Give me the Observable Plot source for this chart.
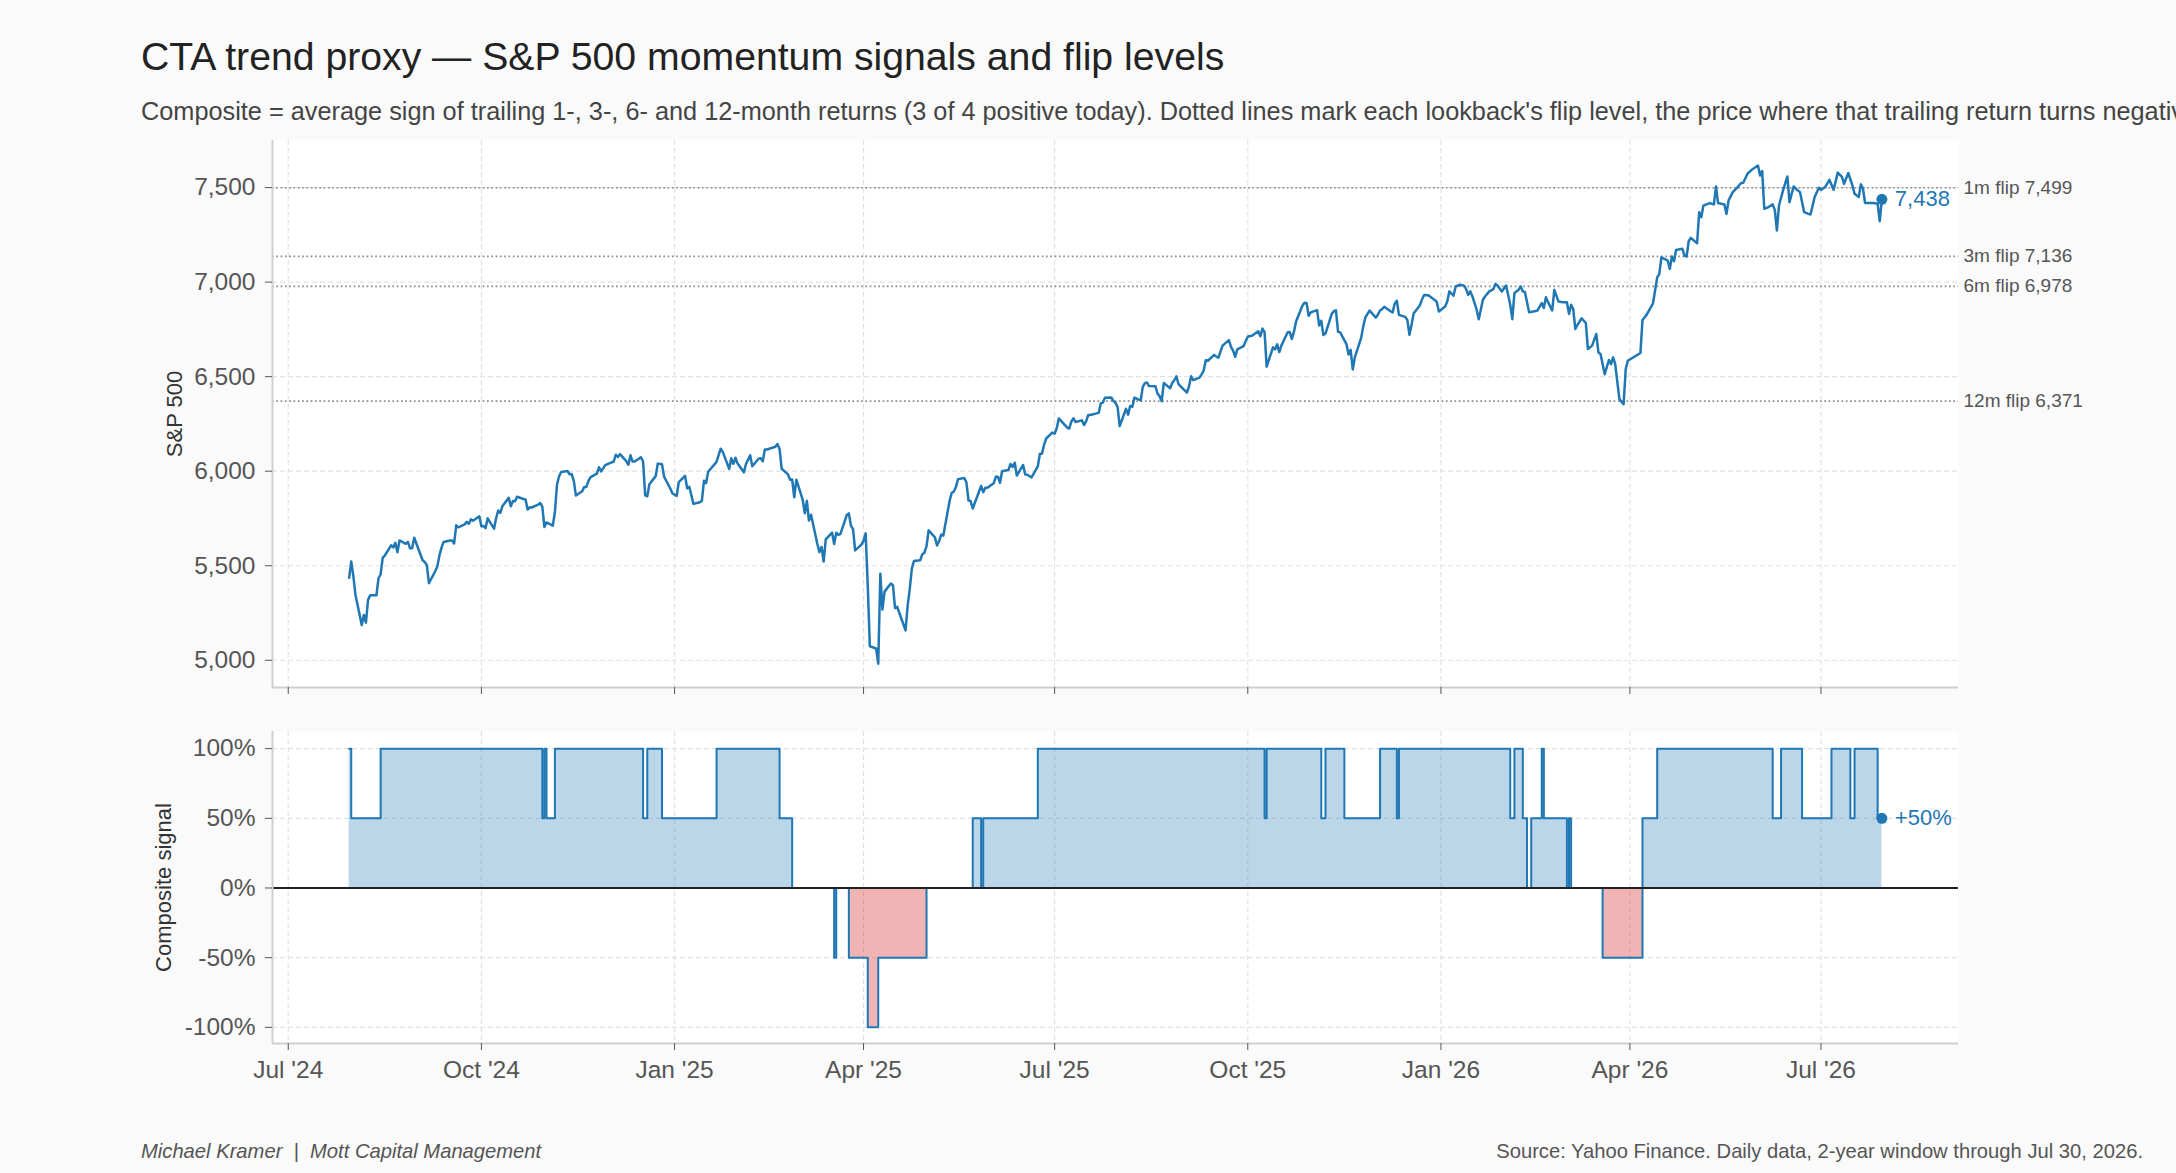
<!DOCTYPE html>
<html><head><meta charset="utf-8">
<script src="https://cdn.jsdelivr.net/npm/d3@7"></script>
<script src="https://cdn.jsdelivr.net/npm/@observablehq/plot@0.6"></script>
<style>
html,body{margin:0;padding:0;background:#fafafa;}
body{width:2176px;height:1173px;position:relative;overflow:hidden;font-family:"Liberation Sans",Arial,Helvetica,sans-serif;}
.t{position:absolute;white-space:pre;line-height:1;}
#title{left:141px;top:37px;font-size:39.2px;color:#222;}
#subtitle{left:141px;top:98.6px;font-size:25.3px;color:#444;}
#credit{left:141px;top:1141px;font-size:20.2px;color:#555;font-style:italic;}
#source{right:33px;top:1141px;font-size:20.2px;color:#555;}
.chart{position:absolute;left:0;}
#topchart{top:130px;}
#botchart{top:720px;}
</style></head>
<body>
<div id="title" class="t">CTA trend proxy — S&amp;P 500 momentum signals and flip levels</div>
<div id="subtitle" class="t">Composite = average sign of trailing 1-, 3-, 6- and 12-month returns (3 of 4 positive today). Dotted lines mark each lookback's flip level, the price where that trailing return turns negative.</div>
<div id="topchart" class="chart"></div>
<div id="botchart" class="chart"></div>
<div id="credit" class="t">Michael Kramer  |  Mott Capital Management</div>
<div id="source" class="t">Source: Yahoo Finance. Daily data, 2-year window through Jul 30, 2026.</div>
<script>
// ---------- DATA ----------
const price2024 = [["07-30",5436],["07-31",5522],["08-01",5446],["08-02",5347],["08-05",5186],["08-06",5240],["08-07",5199],["08-08",5319],["08-09",5344],["08-12",5344],["08-13",5434],["08-14",5455],["08-15",5543],["08-16",5554],["08-19",5608],["08-20",5597],["08-21",5621],["08-22",5571],["08-23",5634],["08-26",5616],["08-27",5626],["08-28",5592],["08-29",5592],["08-30",5648],["09-03",5529],["09-04",5520],["09-05",5503],["09-06",5408],["09-09",5471],["09-10",5496],["09-11",5554],["09-12",5596],["09-13",5626],["09-16",5633],["09-17",5634],["09-18",5618],["09-19",5714],["09-20",5703],["09-23",5719],["09-24",5732],["09-25",5722],["09-26",5745],["09-27",5738],["09-30",5762],["10-01",5709],["10-02",5710],["10-03",5699],["10-04",5751],["10-07",5696],["10-08",5751],["10-09",5792],["10-10",5780],["10-11",5815],["10-14",5859],["10-15",5815],["10-16",5842],["10-17",5841],["10-18",5865],["10-21",5853],["10-22",5851],["10-23",5797],["10-24",5809],["10-25",5808],["10-28",5823],["10-29",5832],["10-30",5813],["10-31",5705],["11-01",5729],["11-04",5712],["11-05",5783],["11-06",5929],["11-07",5973],["11-08",5996],["11-11",6001],["11-12",5984],["11-13",5985],["11-14",5949],["11-15",5871],["11-18",5894],["11-19",5917],["11-20",5917],["11-21",5949],["11-22",5969],["11-25",5987],["11-26",6021],["11-27",5999],["11-29",6032],["12-02",6047],["12-03",6050],["12-04",6087],["12-05",6075],["12-06",6090],["12-09",6053],["12-10",6034],["12-11",6084],["12-12",6051],["12-13",6051],["12-16",6074],["12-17",6051],["12-18",5872],["12-19",5867],["12-20",5931],["12-23",5974],["12-24",6040],["12-26",6037],["12-27",5971],["12-30",5907],["12-31",5882]];
const price2025 = [["01-02",5869],["01-03",5942],["01-06",5975],["01-07",5909],["01-08",5918],["01-10",5827],["01-13",5836],["01-14",5843],["01-15",5950],["01-16",5937],["01-17",5997],["01-21",6049],["01-22",6086],["01-23",6119],["01-24",6101],["01-27",6012],["01-28",6068],["01-29",6039],["01-30",6071],["01-31",6041],["02-03",5994],["02-04",6038],["02-05",6061],["02-06",6084],["02-07",6026],["02-10",6066],["02-11",6069],["02-12",6052],["02-13",6115],["02-14",6115],["02-18",6129],["02-19",6144],["02-20",6118],["02-21",6013],["02-24",5983],["02-25",5955],["02-26",5956],["02-27",5862],["02-28",5955],["03-03",5850],["03-04",5778],["03-05",5843],["03-06",5739],["03-07",5770],["03-10",5615],["03-11",5572],["03-12",5599],["03-13",5522],["03-14",5639],["03-17",5675],["03-18",5615],["03-19",5675],["03-20",5663],["03-21",5668],["03-24",5768],["03-25",5777],["03-26",5712],["03-27",5693],["03-28",5581],["03-31",5612],["04-01",5633],["04-02",5671],["04-03",5397],["04-04",5074],["04-07",5062],["04-08",4982],["04-09",5457],["04-10",5268],["04-11",5363],["04-14",5406],["04-15",5397],["04-16",5276],["04-17",5283],["04-21",5158],["04-22",5288],["04-23",5376],["04-24",5485],["04-25",5525],["04-28",5529],["04-29",5561],["04-30",5569],["05-01",5604],["05-02",5687],["05-05",5650],["05-06",5607],["05-07",5631],["05-08",5664],["05-09",5660],["05-12",5844],["05-13",5886],["05-14",5892],["05-15",5917],["05-16",5958],["05-19",5964],["05-20",5940],["05-21",5845],["05-22",5842],["05-23",5803],["05-27",5922],["05-28",5889],["05-29",5912],["05-30",5912],["06-02",5936],["06-03",5970],["06-04",5971],["06-05",5939],["06-06",6000],["06-09",6006],["06-10",6038],["06-11",6022],["06-12",6045],["06-13",5977],["06-16",6033],["06-17",5982],["06-18",5981],["06-20",5967],["06-23",6025],["06-24",6092],["06-25",6092],["06-26",6141],["06-27",6173],["06-30",6205],["07-01",6198],["07-02",6227],["07-03",6279],["07-07",6230],["07-08",6226],["07-09",6263],["07-10",6280],["07-11",6260],["07-14",6269],["07-15",6244],["07-16",6264],["07-17",6297],["07-18",6297],["07-21",6306],["07-22",6309],["07-23",6359],["07-24",6363],["07-25",6389],["07-28",6390],["07-29",6371],["07-30",6362],["07-31",6339],["08-01",6238],["08-04",6330],["08-05",6299],["08-06",6345],["08-07",6340],["08-08",6389],["08-11",6374],["08-12",6446],["08-13",6466],["08-14",6469],["08-15",6450],["08-18",6449],["08-19",6411],["08-20",6396],["08-21",6370],["08-22",6467],["08-25",6439],["08-26",6466],["08-27",6481],["08-28",6502],["08-29",6460],["09-02",6416],["09-03",6448],["09-04",6502],["09-05",6482],["09-08",6495],["09-09",6512],["09-10",6532],["09-11",6587],["09-12",6584],["09-15",6615],["09-16",6606],["09-17",6600],["09-18",6632],["09-19",6664],["09-22",6693],["09-23",6657],["09-24",6638],["09-25",6605],["09-26",6644],["09-29",6661],["09-30",6688],["10-01",6711],["10-02",6715],["10-03",6716],["10-06",6740],["10-07",6714],["10-08",6754],["10-09",6735],["10-10",6553],["10-13",6655],["10-14",6644],["10-15",6671],["10-16",6630],["10-17",6664],["10-20",6735],["10-21",6736],["10-22",6699],["10-23",6738],["10-24",6792],["10-27",6875],["10-28",6891],["10-29",6890],["10-30",6822],["10-31",6840],["11-03",6852],["11-04",6771],["11-05",6796],["11-06",6720],["11-07",6728],["11-10",6832],["11-11",6846],["11-12",6851],["11-13",6737],["11-14",6734],["11-17",6672],["11-18",6617],["11-19",6642],["11-20",6538],["11-21",6603],["11-24",6705],["11-25",6766],["11-26",6813],["11-28",6849],["12-01",6812],["12-02",6829],["12-03",6850],["12-04",6857],["12-05",6870],["12-08",6846],["12-09",6840],["12-10",6887],["12-11",6901],["12-12",6827],["12-15",6816],["12-16",6800],["12-17",6721],["12-18",6775],["12-19",6834],["12-22",6878],["12-23",6909],["12-24",6932],["12-26",6930],["12-29",6905],["12-30",6896],["12-31",6845]];
const price2026 = [["01-03",6871],["01-04",6898],["01-05",6951],["01-07",6928],["01-08",6977],["01-10",6986],["01-12",6981],["01-13",6963],["01-14",6933],["01-15",6951],["01-16",6924],["01-18",6854],["01-19",6804],["01-21",6907],["01-22",6924],["01-24",6951],["01-26",6963],["01-27",6991],["01-28",6981],["01-30",6950],["02-01",6982],["02-02",6933],["02-03",6880],["02-04",6804],["02-05",6942],["02-07",6960],["02-08",6977],["02-09",6951],["02-10",6948],["02-12",6841],["02-14",6845],["02-16",6850],["02-18",6889],["02-19",6863],["02-20",6920],["02-21",6894],["02-23",6850],["02-24",6959],["02-26",6897],["02-28",6894],["03-02",6894],["03-03",6832],["03-04",6880],["03-05",6858],["03-06",6752],["03-07",6773],["03-09",6809],["03-11",6784],["03-12",6646],["03-14",6664],["03-16",6726],["03-17",6628],["03-18",6620],["03-20",6513],["03-22",6588],["03-23",6566],["03-24",6602],["03-25",6566],["03-27",6381],["03-29",6354],["03-30",6540],["03-31",6584],["04-06",6625],["04-07",6800],["04-09",6828],["04-12",6888],["04-14",7025],["04-15",7043],["04-16",7131],["04-19",7114],["04-20",7070],["04-21",7135],["04-22",7110],["04-23",7170],["04-26",7176],["04-27",7140],["04-28",7135],["04-29",7216],["04-30",7234],["05-03",7206],["05-04",7370],["05-05",7343],["05-06",7405],["05-09",7418],["05-11",7411],["05-12",7506],["05-13",7418],["05-16",7411],["05-17",7361],["05-18",7432],["05-20",7476],["05-22",7499],["05-24",7524],["05-25",7526],["05-27",7573],["05-29",7594],["06-01",7617],["06-02",7564],["06-03",7587],["06-04",7388],["06-06",7397],["06-08",7411],["06-09",7382],["06-10",7273],["06-11",7405],["06-13",7488],["06-15",7559],["06-16",7423],["06-18",7506],["06-19",7494],["06-21",7476],["06-23",7370],["06-25",7361],["06-26",7358],["06-28",7450],["06-30",7499],["07-01",7488],["07-03",7503],["07-05",7541],["07-07",7488],["07-09",7579],["07-11",7556],["07-12",7520],["07-14",7577],["07-16",7511],["07-17",7467],["07-19",7450],["07-20",7517],["07-21",7494],["07-22",7418],["07-26",7418],["07-28",7414],["07-29",7322],["07-30",7438]];

const flipNames = ["1m", "3m", "6m", "12m"];
const flipLevels = [7499, 7136, 6978, 6371];

const signalChanges = [["2024-07-30",1],["2024-07-31",0.5],["2024-08-14",1],["2024-10-30",0.5],["2024-10-31",1],["2024-11-01",0.5],["2024-11-05",1],["2024-12-17",0.5],["2024-12-19",1],["2024-12-26",0.5],["2025-01-21",1],["2025-02-20",0.5],["2025-02-26",0],["2025-03-18",-0.5],["2025-03-19",0],["2025-03-25",-0.5],["2025-04-03",-1],["2025-04-08",-0.5],["2025-05-01",0],["2025-05-23",0.5],["2025-05-27",0],["2025-05-28",0.5],["2025-06-23",1],["2025-10-09",0.5],["2025-10-10",1],["2025-11-05",0.5],["2025-11-07",1],["2025-11-16",0.5],["2025-12-03",1],["2025-12-11",0.5],["2025-12-12",1],["2026-02-03",0.5],["2026-02-05",1],["2026-02-09",0.5],["2026-02-11",0],["2026-02-13",0.5],["2026-02-18",1],["2026-02-19",0.5],["2026-03-02",0],["2026-03-03",0.5],["2026-03-04",0],["2026-03-19",-0.5],["2026-04-07",0.5],["2026-04-14",1],["2026-06-08",0.5],["2026-06-12",1],["2026-06-22",0.5],["2026-07-06",1],["2026-07-15",0.5],["2026-07-17",1],["2026-07-28",0.5],["2026-07-30",0.5]];

const priceTicks = [5000, 5500, 6000, 6500, 7000, 7500];
const signalTicks = [-1, -0.5, 0, 0.5, 1];
const dateTicks = ["2024-07-01","2024-10-01","2025-01-01","2025-04-01","2025-07-01","2025-10-01","2026-01-01","2026-04-01","2026-07-01"];
const xDomainDates = ["2024-06-23T12:00:00Z", "2026-09-04T12:00:00Z"];
const priceDomain = [4856, 7749];
const signalDomain = [-1.116, 1.123];

// ---------- BUILD ----------
const utc = s => new Date(s + "T00:00:00Z");
const price = [
  ...price2024.map(([md, v]) => ({date: utc("2024-" + md), value: v})),
  ...price2025.map(([md, v]) => ({date: utc("2025-" + md), value: v})),
  ...price2026.map(([md, v]) => ({date: utc("2026-" + md), value: v}))
];
const flips = flipNames.map((n, i) => ({name: n, level: flipLevels[i]}));
const signal = signalChanges.map(([d, v]) => ({date: utc(d), value: v}));
const xTicks = dateTicks.map(utc);
const xDomain = xDomainDates.map(s => new Date(s));
const lastPrice = price[price.length - 1];
const lastSignal = signal[signal.length - 1];

const FONT = '"Liberation Sans", Arial, Helvetica, sans-serif';
const TICKFS = 24.5;
const common = {
  width: 2176, marginLeft: 272, marginRight: 218,
  x: {type: "utc", domain: xDomain},
  style: {fontFamily: FONT, fontSize: TICKFS + "px", color: "#555", background: "transparent", overflow: "visible"}
};
const gridStyle = {stroke: "#e2e2e2", strokeOpacity: 1, strokeWidth: 1.2, strokeDasharray: "5,3"};
const spine = {stroke: "#cfcfcf", strokeWidth: 2};

const topPlot = Plot.plot({
  ...common,
  height: 580, marginTop: 10, marginBottom: 23,
  y: {domain: priceDomain},
  marks: [
    Plot.frame({fill: "white", stroke: "none"}),
    Plot.gridX(xTicks, gridStyle),
    Plot.gridY(priceTicks, gridStyle),
    Plot.ruleY(flips, {y: "level", stroke: "#8c8c8c", strokeWidth: 1.7, strokeDasharray: "1.7,2.6"}),
    Plot.lineY(price, {x: "date", y: "value", stroke: "#1f77b4", strokeWidth: 2.5}),
    Plot.ruleX([xDomain[0]], spine),
    Plot.ruleY([priceDomain[0]], spine),
    Plot.axisY(priceTicks, {tickSize: 7, tickPadding: 10, tickFormat: d3.format(","), label: null, fontSize: TICKFS}),
    Plot.axisX(xTicks, {tickSize: 7, tickFormat: () => "", label: null}),
    Plot.text(flips, {frameAnchor: "right", y: "level", text: d => `${d.name} flip ${d3.format(",")(d.level)}`, dx: 5, textAnchor: "start", fontSize: 19, fill: "#555"}),
    Plot.dot([lastPrice], {x: "date", y: "value", r: 5.5, fill: "#1f77b4"}),
    Plot.text([lastPrice], {x: "date", y: "value", text: d => d3.format(",")(d.value), dx: 13, textAnchor: "start", fontSize: 22, fill: "#1f77b4"}),
    Plot.text(["S&P 500"], {frameAnchor: "left", text: d => d, dx: -98, rotate: -90, textAnchor: "middle", fontSize: 22, fill: "#333"})
  ]
});
document.getElementById("topchart").append(topPlot);

const pct = d => `${Math.round(d * 100)}%`;
const botPlot = Plot.plot({
  ...common,
  height: 380, marginTop: 11, marginBottom: 57,
  y: {domain: signalDomain},
  marks: [
    Plot.frame({fill: "white", stroke: "none"}),
    Plot.gridX(xTicks, gridStyle),
    Plot.gridY(signalTicks, gridStyle),
    Plot.areaY(signal, {x: "date", y: d => Math.max(0, d.value), curve: "step-after", fill: "#1f77b4", fillOpacity: 0.3}),
    Plot.areaY(signal, {x: "date", y: d => Math.min(0, d.value), curve: "step-after", fill: "#d62728", fillOpacity: 0.35}),
    Plot.lineY(signal, {x: "date", y: "value", curve: "step-after", stroke: "#1f77b4", strokeWidth: 2}),
    Plot.ruleY([0], {stroke: "#222", strokeWidth: 2}),
    Plot.ruleX([xDomain[0]], spine),
    Plot.ruleY([signalDomain[0]], spine),
    Plot.axisY(signalTicks, {tickSize: 7, tickPadding: 10, tickFormat: pct, label: null, fontSize: TICKFS}),
    Plot.axisX(xTicks, {tickSize: 7, tickPadding: 10, tickFormat: d3.utcFormat("%b '%y"), label: null, fontSize: TICKFS}),
    Plot.dot([lastSignal], {x: "date", y: "value", r: 5.5, fill: "#1f77b4"}),
    Plot.text([lastSignal], {x: "date", y: "value", text: d => (d.value > 0 ? "+" : "") + pct(d.value), dx: 13, textAnchor: "start", fontSize: 22, fill: "#1f77b4"}),
    Plot.text(["Composite signal"], {frameAnchor: "left", text: d => d, dx: -109, rotate: -90, textAnchor: "middle", fontSize: 22, fill: "#333"})
  ]
});
document.getElementById("botchart").append(botPlot);
</script>
</body></html>
